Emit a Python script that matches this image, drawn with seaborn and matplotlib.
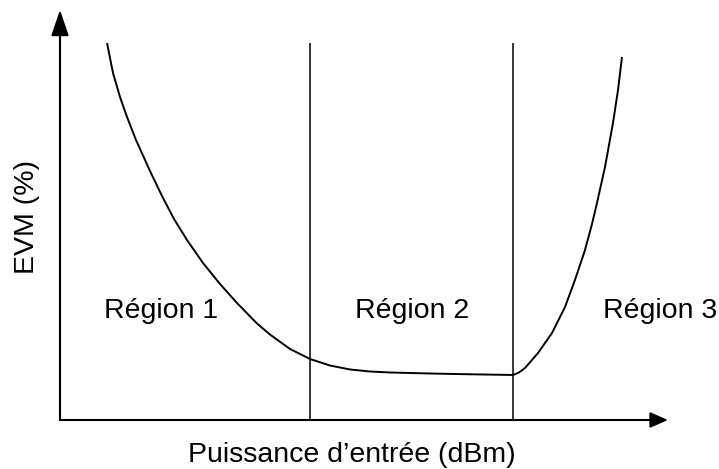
import matplotlib
matplotlib.use("Agg")
import matplotlib.pyplot as plt
import seaborn as sns
import pandas as pd

# EVM versus input power: schematic curve (arbitrary units)
puissance = [7.73, 8.72, 9.87, 11.02, 12.50, 14.80, 16.78, 18.75, 20.89, 23.52,
             26.32, 29.11, 32.40, 34.54, 37.83, 41.12, 44.41, 47.70, 50.99,
             54.28, 60.86, 67.43, 74.51, 75.49, 76.48, 78.62, 80.92, 83.06,
             84.70, 86.35, 87.50, 88.32, 89.64, 90.95, 91.78, 92.43]
evm = [91.95, 84.63, 78.78, 73.90, 68.29, 60.73, 54.63, 49.02, 43.90, 38.29,
       33.17, 28.54, 23.54, 20.85, 17.32, 14.88, 13.29, 12.32, 11.83,
       11.59, 11.34, 11.15, 10.98, 11.59, 12.68, 16.34, 21.22, 27.56,
       34.15, 41.46, 47.80, 52.93, 61.71, 72.44, 80.49, 88.54]

# Region boundaries
limites = [41.1, 74.5]
limite_haut = 92.0

# Region labels and their left edges
regions = ["Région 1", "Région 2", "Région 3"]
regions_x = [7.3, 48.5, 89.3]
regions_y = 24.8

xlabel = "Puissance d\u2019entrée (dBm)"
ylabel = "EVM (%)"

sns.set_theme(style="white")
plt.rcParams["font.family"] = ["Liberation Sans", "DejaVu Sans"]

fig = plt.figure(figsize=(7.19, 4.69), dpi=100)
ax = fig.add_axes([60 / 719, 49 / 469, 608 / 719, 410 / 469])
ax.set_xlim(0, 100)
ax.set_ylim(0, 100)
for s in ax.spines.values():
    s.set_visible(False)
ax.set_xticks([])
ax.set_yticks([])

df = pd.DataFrame({"puissance": puissance, "evm": evm})
sns.lineplot(data=df, x="puissance", y="evm", sort=False, color="black",
             linewidth=1.4, solid_joinstyle="round", solid_capstyle="butt",
             ax=ax)
ax.set_xlabel("")
ax.set_ylabel("")

ax.vlines(limites, 0, limite_haut, color="black", linewidth=1.1)

# Axes drawn as arrows
ax.annotate("", xy=(1, 0), xytext=(0, 0), xycoords="axes fraction",
            arrowprops=dict(arrowstyle="-|>,head_length=1.08,head_width=0.47",
                            mutation_scale=10, color="black", linewidth=1.5,
                            shrinkA=0, shrinkB=0), annotation_clip=False)
ax.annotate("", xy=(0, 1), xytext=(0, 0), xycoords="axes fraction",
            arrowprops=dict(arrowstyle="-|>,head_length=1.58,head_width=0.54",
                            mutation_scale=10, color="black", linewidth=1.5,
                            shrinkA=0, shrinkB=0), annotation_clip=False)

for lab, x in zip(regions, regions_x):
    ax.text(x, regions_y, lab, fontsize=20.5, ha="left", va="baseline",
            color="black", clip_on=False)

fig.text(352 / 719, 1 - 462 / 469, xlabel, fontsize=20.5, ha="center",
         va="baseline", color="black")
fig.text(27 / 719, 1 - 217 / 469, ylabel, fontsize=20.5, ha="center",
         va="center", rotation=90, color="black")

fig.savefig("out.png", dpi=100)
